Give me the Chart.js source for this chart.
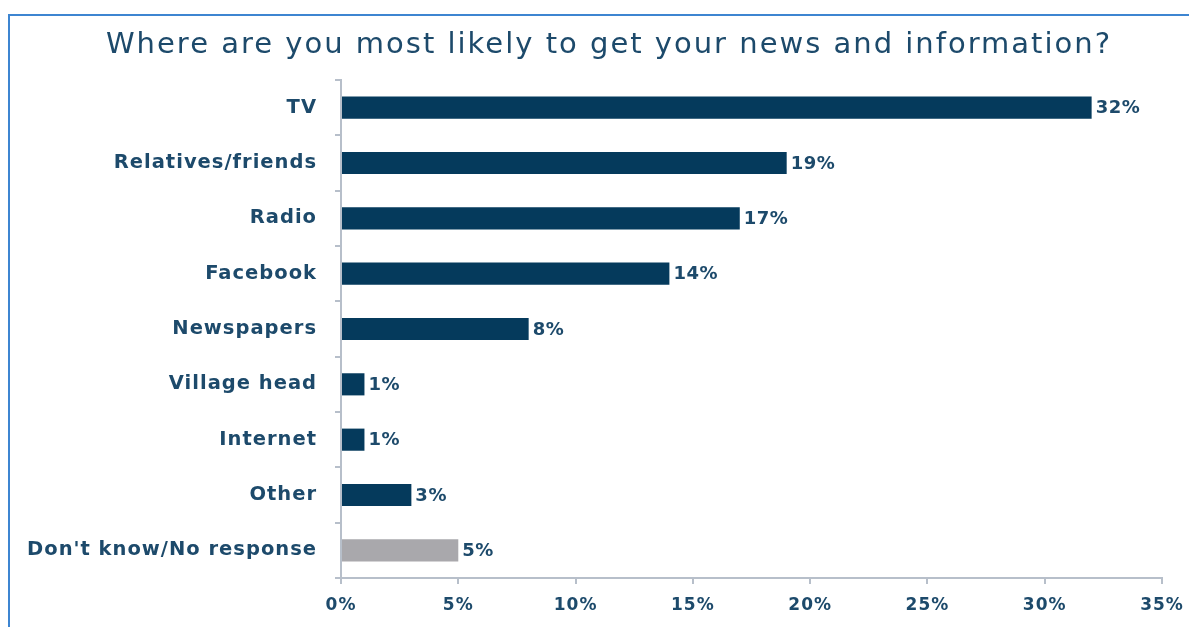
<!DOCTYPE html>
<html>
<head>
<meta charset="utf-8">
<script src="https://cdn.jsdelivr.net/npm/chart.js@4.4.1/dist/chart.umd.min.js"></script>
<style>
  html, body { margin: 0; padding: 0; background: #ffffff; }
  #wrap { position: relative; width: 1189px; height: 627px; overflow: hidden; }
  #frame { position: absolute; left: 8px; top: 14px; width: 1300px; height: 700px;
           border-left: 2px solid #3d85d1; border-top: 2px solid #3d85d1; box-sizing: border-box; }
  canvas { position: absolute; left: 0; top: 0; }
</style>
</head>
<body>
<div id="wrap">
  <div id="frame"></div>
  <canvas id="c" width="1189" height="627"></canvas>
</div>
<script>
const titleText = "Where are you most likely to get your news and information?";
const categories = ["TV", "Relatives/friends", "Radio", "Facebook", "Newspapers", "Village head", "Internet", "Other", "Don't know/No response"];
const values = [32, 19, 17, 14, 8, 1, 1, 3, 5];
const barColors = ["#053a5c", "#053a5c", "#053a5c", "#053a5c", "#053a5c", "#053a5c", "#053a5c", "#053a5c", "#a9a8ac"];
const xTicks = [0, 5, 10, 15, 20, 25, 30, 35];

const textColor = "#1d4a6b";
const axisColor = "#b7bfca";
const labelFont = "'DejaVu Sans', sans-serif";

const canvas = document.getElementById('c');
const ctx0 = canvas.getContext('2d');
ctx0.letterSpacing = '1px';

const titleAndLabels = {
  id: 'titleAndLabels',
  beforeDraw(chart) {
    chart.ctx.letterSpacing = '1px';
  },
  afterDraw(chart) {
    const ctx = chart.ctx;
    ctx.save();
    ctx.letterSpacing = '2px';
    ctx.fillStyle = textColor;
    ctx.font = "normal 29px " + labelFont;
    ctx.textAlign = 'center';
    ctx.textBaseline = 'middle';
    ctx.fillText(titleText, 609, 45);
    ctx.restore();
  },
  afterDatasetsDraw(chart) {
    const ctx = chart.ctx;
    const meta = chart.getDatasetMeta(0);
    ctx.save();
    ctx.letterSpacing = '0.5px';
    ctx.fillStyle = textColor;
    ctx.font = "bold 18px " + labelFont;
    ctx.textAlign = 'left';
    ctx.textBaseline = 'middle';
    meta.data.forEach((bar, i) => {
      ctx.fillText(values[i] + '%', bar.x + 4, bar.y + 1);
    });
    ctx.restore();
  }
};

new Chart(canvas, {
  type: 'bar',
  data: {
    labels: categories,
    datasets: [{
      data: values,
      backgroundColor: barColors,
      barPercentage: 0.4,
      categoryPercentage: 1.0
    }]
  },
  options: {
    indexAxis: 'y',
    responsive: false,
    animation: false,
    devicePixelRatio: 1,
    layout: { padding: { left: 0, right: 27, top: 80, bottom: 0 } },
    plugins: {
      legend: { display: false },
      tooltip: { enabled: false },
      title: { display: false }
    },
    scales: {
      x: {
        min: 0, max: 35,
        afterBuildTicks(scale) { scale.ticks = xTicks.map(v => ({ value: v })); },
        afterFit(scale) { scale.height = 49; scale.paddingRight = 0; scale.paddingLeft = 0; },
        grid: { display: true, drawOnChartArea: false, drawTicks: true, tickLength: 6, color: axisColor, lineWidth: 2 },
        border: { display: true, color: axisColor, width: 2 },
        ticks: {
          color: textColor,
          font: { family: labelFont, size: 17, weight: 'bold' },
          padding: 11,
          maxRotation: 0,
          callback: (v) => v + '%'
        }
      },
      y: {
        afterFit(scale) { scale.width = 341; },
        grid: { display: true, drawOnChartArea: false, drawTicks: true, tickLength: 6, color: axisColor, lineWidth: 2, offset: true },
        border: { display: true, color: axisColor, width: 2 },
        ticks: {
          color: textColor,
          font: { family: labelFont, size: 19.5, weight: 'bold' },
          padding: 18
        }
      }
    }
  },
  plugins: [titleAndLabels]
});
</script>
</body>
</html>
